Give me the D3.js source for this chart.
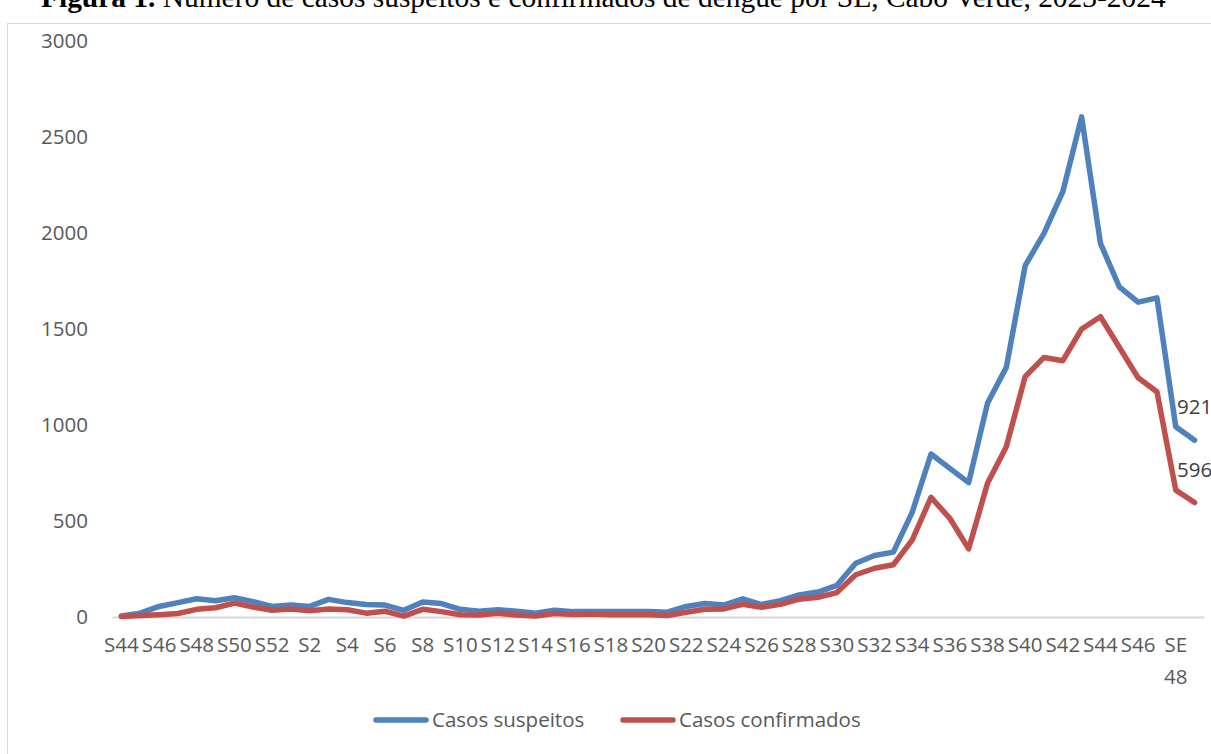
<!DOCTYPE html>
<html>
<head>
<meta charset="utf-8">
<script src="https://cdn.jsdelivr.net/npm/d3@7"></script>
<style>
  html, body { margin: 0; padding: 0; background: #fff; }
  svg { display: block; }
</style>
</head>
<body>
<svg id="chart" width="1211" height="754"></svg>
<script>
// Epidemiological weeks: S44–S52 of 2023, then S1–SE 49 of 2024
const categories = [
  "S44","S45","S46","S47","S48","S49","S50","S51","S52",
  "S1","S2","S3","S4","S5","S6","S7","S8","S9","S10",
  "S11","S12","S13","S14","S15","S16","S17","S18","S19","S20",
  "S21","S22","S23","S24","S25","S26","S27","S28","S29","S30",
  "S31","S32","S33","S34","S35","S36","S37","S38","S39","S40",
  "S41","S42","S43","S44 ","S45 ","S46 ","S47 ","SE 48","SE 49"
];

const suspeitos = [
  5, 20, 55, 75, 95, 85, 100, 80, 55,
  62, 55, 92, 75, 65, 62, 35, 78, 70, 40,
  30, 38, 30, 20, 35, 28, 28, 28, 29, 28,
  25, 55, 70, 62, 95, 65, 85, 115, 130, 165,
  280, 320, 338, 545, 849, 774, 700, 1113, 1300, 1830,
  1998, 2215, 2605, 1946, 1720, 1640, 1662, 991, 921
];

const confirmados = [
  3, 8, 12, 18, 40, 48, 72, 52, 35,
  42, 32, 42, 38, 20, 30, 5, 40, 28, 12,
  10, 20, 10, 5, 18, 13, 15, 12, 12, 12,
  8, 25, 40, 42, 66, 50, 66, 93, 103, 127,
  220, 254, 272, 400, 623, 514, 355, 696, 887, 1252,
  1352, 1335, 1500, 1564, 1405, 1246, 1173, 661, 596
];

const yTicks = [0, 500, 1000, 1500, 2000, 2500, 3000];

const seriesNames = ["Casos suspeitos", "Casos confirmados"];
const seriesColors = ["#4F81BD", "#C0504D"];

const titleBold = "Figura 1.";
const titleRest = " Número de casos suspeitos e confirmados de dengue por SE, Cabo Verde, 2023-2024";

const svg = d3.select("#chart");
const FONT = "'Open Sans', 'Noto Sans', sans-serif";
const FS = 20.5;
const TEXT = "#595959";

// Chart area frame
svg.append("rect")
  .attr("x", 7.5).attr("y", 23.5)
  .attr("width", 1260).attr("height", 760)
  .attr("fill", "none").attr("stroke", "#D9D9D9").attr("stroke-width", 1);

// Caption above the chart
const title = svg.append("text")
  .attr("x", 41).attr("y", 7)
  .attr("font-family", "'Liberation Serif', 'Times New Roman', serif")
  .attr("font-size", 24)
  .attr("fill", "#000");
title.append("tspan").attr("font-weight", "bold").text(titleBold);
title.append("tspan").text(titleRest);
const tw = title.node().getComputedTextLength();
title.attr("font-size", 24 * 1125 / tw);

// Scales
const plot = { left: 112, right: 1204, top: 41, bottom: 617 };
const x = d3.scaleBand().domain(categories).range([plot.left, plot.right]);
const xc = c => x(c) + x.bandwidth() / 2;
const y = d3.scaleLinear().domain([0, 3000]).range([plot.bottom, plot.top]);

// Y axis labels
const yAxis = svg.append("g")
  .attr("transform", `translate(${plot.left},0)`)
  .call(d3.axisLeft(y).tickValues(yTicks).tickFormat(d3.format("d"))
    .tickSize(0).tickPadding(24));
yAxis.select(".domain").remove();
yAxis.selectAll("text")
  .attr("font-family", FONT).attr("font-size", FS).attr("fill", TEXT);

// Category axis
const xAxis = svg.append("g")
  .attr("transform", `translate(0,${plot.bottom})`)
  .call(d3.axisBottom(x)
    .tickValues(categories.filter((d, i) => i % 2 === 0))
    .tickSize(0).tickPadding(20));
xAxis.select(".domain")
  .attr("stroke", "#D9D9D9").attr("stroke-width", 2);
xAxis.selectAll("text")
  .attr("font-family", FONT).attr("font-size", FS).attr("fill", TEXT)
  .each(function(d) {
    const t = d3.select(this);
    const words = d.trim().split(" ");
    if (words.length > 1) {
      t.text(null);
      words.forEach((w, k) => {
        t.append("tspan").attr("x", 0).attr("dy", k === 0 ? "0.71em" : "1.6em").text(w);
      });
      t.attr("dy", null);
    } else {
      t.text(d.trim());
    }
  });

// Lines
const line = d3.line()
  .x((d, i) => xc(categories[i]))
  .y(d => y(d));

[suspeitos, confirmados].forEach((vals, k) => {
  svg.append("path")
    .datum(vals)
    .attr("d", line)
    .attr("fill", "none")
    .attr("stroke", seriesColors[k])
    .attr("stroke-width", 5.5)
    .attr("stroke-linejoin", "round")
    .attr("stroke-linecap", "round");
});

// Value labels on the last week
const lastCat = categories[categories.length - 1];
[suspeitos, confirmados].forEach(vals => {
  const v = vals[vals.length - 1];
  svg.append("text")
    .attr("x", xc(lastCat))
    .attr("y", y(v) - 33)
    .attr("dy", "0.35em")
    .attr("text-anchor", "middle")
    .attr("font-family", FONT).attr("font-size", FS).attr("fill", "#404040")
    .text(v);
});

// Legend
const legendItems = [
  { x: 376, name: seriesNames[0], color: seriesColors[0] },
  { x: 623, name: seriesNames[1], color: seriesColors[1] }
];
const lg = svg.append("g").attr("transform", "translate(0,720)");
legendItems.forEach(it => {
  lg.append("line")
    .attr("x1", it.x).attr("x2", it.x + 50)
    .attr("y1", 0).attr("y2", 0)
    .attr("stroke", it.color).attr("stroke-width", 5.5)
    .attr("stroke-linecap", "round");
  lg.append("text")
    .attr("x", it.x + 56).attr("y", 0).attr("dy", "0.35em")
    .attr("font-family", FONT).attr("font-size", FS).attr("fill", TEXT)
    .text(it.name);
});
</script>
</body>
</html>
